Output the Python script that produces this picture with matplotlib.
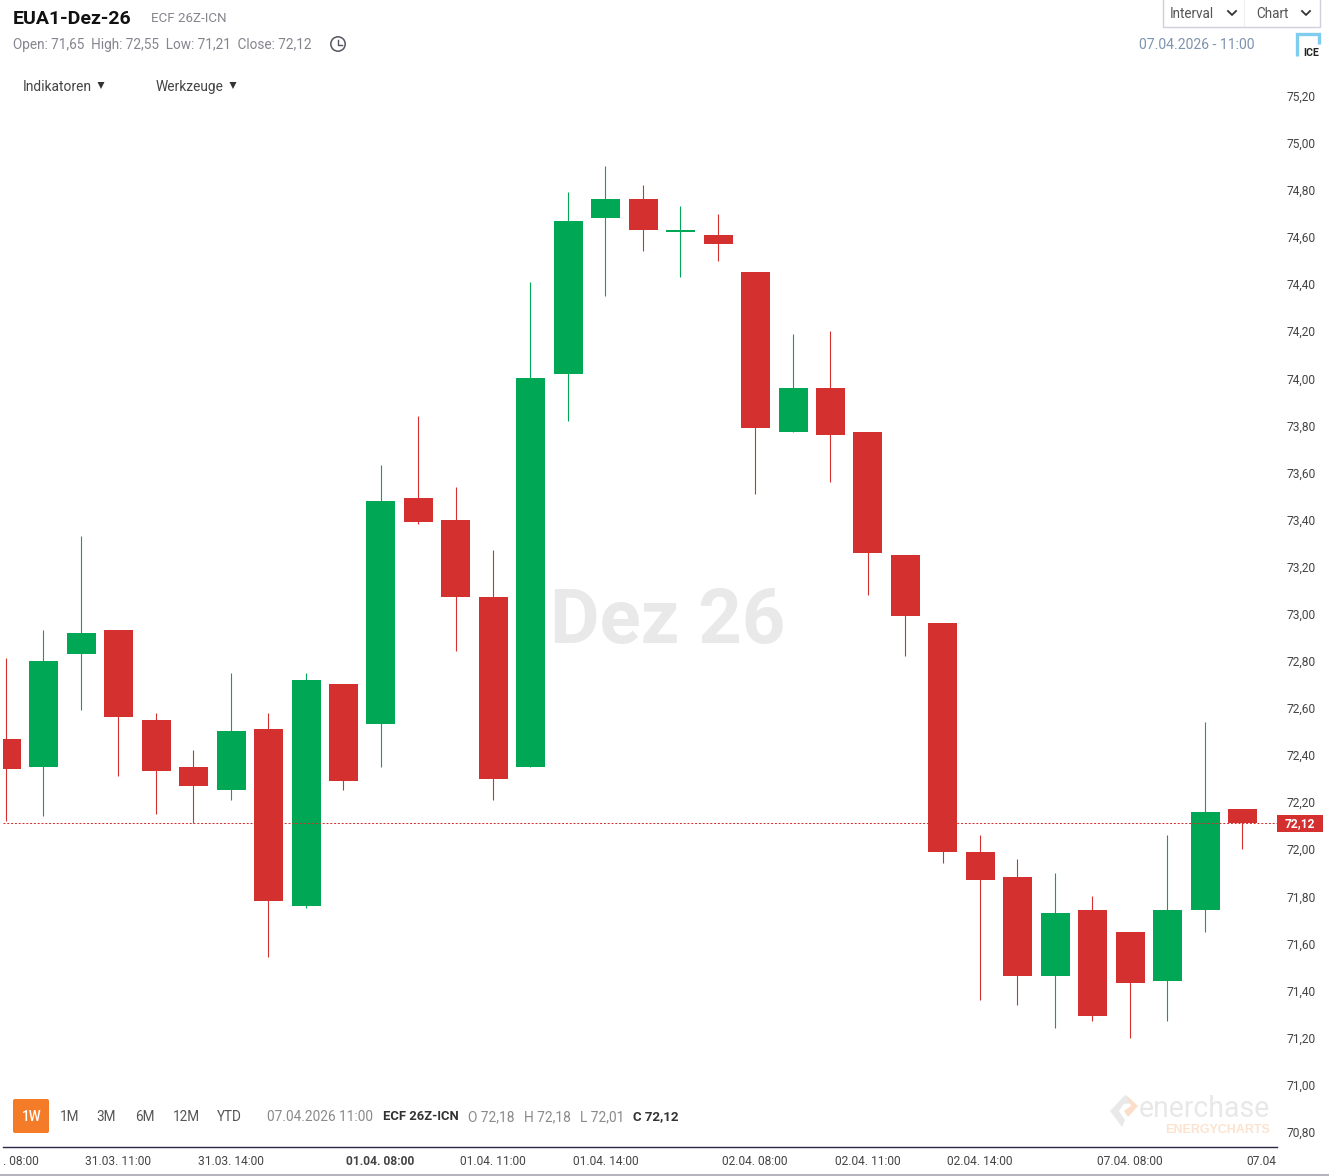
import matplotlib
matplotlib.use("Agg")
import matplotlib.pyplot as plt
from matplotlib.patches import Rectangle, Circle, FancyBboxPatch, Polygon
from matplotlib.transforms import ScaledTranslation

opens = [72.47, 72.35, 72.83, 72.93, 72.55, 72.35, 72.25, 72.51, 71.76, 72.70, 72.53, 73.49, 73.40, 73.07, 72.35, 74.02, 74.68,
         74.76, 74.62, 74.61, 74.45, 73.77, 73.96, 73.77, 73.25, 72.96, 71.99, 71.88, 71.46, 71.74, 71.65, 71.44, 71.74, 72.17]
closes = [72.34, 72.80, 72.92, 72.56, 72.33, 72.27, 72.50, 71.78, 72.72, 72.29, 73.48, 73.39, 73.07, 72.30, 74.00, 74.67, 74.76,
          74.63, 74.63, 74.57, 73.79, 73.96, 73.76, 73.26, 72.99, 71.99, 71.87, 71.46, 71.73, 71.29, 71.43, 71.74, 72.16, 72.11]
highs = [72.81, 72.93, 73.33, 72.93, 72.58, 72.42, 72.75, 72.58, 72.75, 72.70, 73.63, 73.84, 73.54, 73.27, 74.41, 74.79, 74.90,
         74.82, 74.73, 74.70, 74.45, 74.19, 74.20, 73.77, 73.25, 72.96, 72.06, 71.96, 71.90, 71.80, 71.65, 72.06, 72.54, 72.17]
lows = [72.12, 72.14, 72.59, 72.31, 72.15, 72.11, 72.21, 71.54, 71.75, 72.25, 72.35, 73.38, 72.84, 72.21, 72.35, 73.82, 74.35,
        74.54, 74.43, 74.50, 73.51, 73.77, 73.56, 73.08, 72.82, 71.94, 71.36, 71.34, 71.24, 71.27, 71.20, 71.27, 71.65, 72.00]

price_ticks = [70.8, 71.0, 71.2, 71.4, 71.6, 71.8, 72.0, 72.2, 72.4, 72.6, 72.8, 73.0,
               73.2, 73.4, 73.6, 73.8, 74.0, 74.2, 74.4, 74.6, 74.8, 75.0, 75.2]
time_ticks = [0, 3, 6, 10, 13, 16, 20, 23, 26, 30, 33]
time_labels = [". 08:00", "31.03. 11:00", "31.03. 14:00", "01.04. 08:00", "01.04. 11:00", "01.04. 14:00",
               "02.04. 08:00", "02.04. 11:00", "02.04. 14:00", "07.04. 08:00", "07.04"]
last_line = 72.11
last_tag = "72,12"
RED, GREEN = "#D53030", "#00A855"
FONT = "Roboto"

W, H = 1329, 1176
plt.rcParams["font.family"] = [FONT, "DejaVu Sans"]
fig = plt.figure(figsize=(W / 100, H / 100), dpi=100, facecolor="white")

def px(s):
    return s * 0.72

# overlay in pixel coordinates for the page furniture
ov = fig.add_axes([0, 0, 1, 1], zorder=0)
ov.set_xlim(0, W)
ov.set_ylim(H, 0)
ov.axis("off")

# main chart
L, R, B = 3, 1277, 1147
ax = fig.add_axes([L / W, 1 - B / H, (R - L) / W, B / H], zorder=1)
ax.patch.set_alpha(0)
step = 37.46
x0 = 6.0
ax.set_xlim((L - x0) / step, (R - x0) / step)
ax.set_ylim(70.735, 75.607)

xs = list(range(len(opens)))
for i in xs:
    col = GREEN if closes[i] >= opens[i] else RED
    ax.vlines(i, lows[i], highs[i], color=col, lw=0.8, zorder=2)
    ax.bar(i + 0.01, abs(closes[i] - opens[i]), bottom=min(opens[i], closes[i]), width=0.775,
           color=col, linewidth=0, zorder=3)
ax.axhline(last_line, color=RED, lw=0.72, dashes=(2.0, 1.8), zorder=4)

for s in ("top", "left", "right"):
    ax.spines[s].set_visible(False)
ax.spines["bottom"].set_color("#2B2745")
ax.spines["bottom"].set_linewidth(1.0)

ax.yaxis.tick_right()
ax.set_yticks(price_ticks)
ax.set_yticklabels([f"{v:.2f}".replace(".", ",") for v in price_ticks], fontsize=px(12), color="#444444")
ax.tick_params(axis="y", length=0, pad=7.2)
ax.set_xticks(time_ticks)
ax.set_xticklabels(time_labels, fontsize=px(12), color="#444444")
ax.tick_params(axis="x", length=0, pad=5.5)
tl = ax.get_xticklabels()
tl[3].set_fontweight("bold")
tl[0].set_ha("left")
tl[-1].set_ha("left")
tl[0].set_transform(tl[0].get_transform() + ScaledTranslation(-3 / 100, 0, fig.dpi_scale_trans))
tl[-1].set_transform(tl[-1].get_transform() + ScaledTranslation(4 / 100, 0, fig.dpi_scale_trans))

# last-price tag
ax.add_patch(Rectangle((1, last_line - 0.035), 46 / (R - L), 0.07, transform=ax.get_yaxis_transform(),
                       facecolor=RED, edgecolor="none", clip_on=False, zorder=5))
ax.text(1 + 23 / (R - L), last_line, last_tag, transform=ax.get_yaxis_transform(),
        color="white", fontsize=px(12), fontweight="bold", ha="center", va="center", zorder=6, clip_on=False)

# header
GREY = "#85858F"
ov.text(13, 18.5, "EUA1-Dez-26", fontsize=px(19.5), fontweight="bold", color="#111111", va="center")
ov.text(151, 18.5, "ECF 26Z-ICN", fontsize=px(13.4), color=GREY, va="center")
ov.text(13, 44.5, "Open: 71,65  High: 72,55  Low: 71,21  Close: 72,12", fontsize=px(13.65), color=GREY, va="center")
ov.add_patch(Circle((338, 44), 7.2, fill=False, ec="#555560", lw=1.1))
ov.plot([338, 338, 342], [39.5, 45, 45], color="#555560", lw=1.0)
ov.text(23, 87, "Indikatoren", fontsize=px(13.7), color="#444444", va="center")
ov.text(156, 87, "Werkzeuge", fontsize=px(13.7), color="#444444", va="center")
for x in (101, 233):
    ov.add_patch(Polygon([(x - 3.5, 82), (x + 3.5, 82), (x, 89)], fc="#333333", ec="none"))

# top-right controls
ov.plot([1162.5, 1162.5, 1319.5, 1319.5], [0, 26.5, 26.5, 0], color="#CFCFDD", lw=1)
ov.plot([1244, 1244], [0, 26], color="#F0F0F4", lw=1)
ov.text(1170, 14, "Interval", fontsize=px(13.5), color="#555555", va="center")
ov.text(1256, 14, "Chart", fontsize=px(13.5), color="#555555", va="center")
for x in (1232, 1306):
    ov.plot([x - 4, x, x + 4], [11, 15, 11], color="#333333", lw=1.3)
ov.text(1139, 45, "07.04.2026 - 11:00", fontsize=px(14), color="#7D93AE", va="center")
ov.plot([1296.5, 1296.5, 1318.5, 1318.5], [56, 34, 34, 44], color="#7FCDEE", lw=2.4, solid_capstyle="butt", solid_joinstyle="miter")
ov.add_patch(Rectangle((1301, 44), 20, 14, fc="white", ec="none"))
ov.text(1311.5, 52.5, "ICE", fontsize=px(10.5), fontweight="bold", color="#222222", ha="center", va="center")

# watermark
ov.text(667.5, 623, "Dez 26", fontsize=px(76), fontweight="bold", color="#E9E9E9", ha="center", va="center")

# range selector and OHLC row
ov.add_patch(FancyBboxPatch((15, 1101), 32, 30, boxstyle="round,pad=2,rounding_size=2", fc="#F47B27", ec="none"))
ov.text(31.5, 1117, "1W", fontsize=px(13.5), color="white", ha="center", va="center", fontweight="medium")
for lab, x in [("1M", 69.5), ("3M", 106.5), ("6M", 144.5), ("12M", 186), ("YTD", 229.5)]:
    ov.text(x, 1117, lab, fontsize=px(13.5), color="#555555", ha="center", va="center")
ov.text(267, 1117, "07.04.2026 11:00", fontsize=px(13.8), color="#8A8A8A", va="center")
ov.text(383, 1117, "ECF 26Z-ICN", fontsize=px(13), color="#333333", fontweight="bold", va="center")
for lab, x in [("O 72,18", 468), ("H 72,18", 524), ("L 72,01", 580)]:
    ov.text(x, 1117, lab, fontsize=px(13.8), color="#8A8A8A", va="center")
ov.text(633, 1117, "C 72,12", fontsize=px(13.2), color="#333333", fontweight="bold", va="center")

# enerchase logo
ov.add_patch(Polygon([(1125, 1095), (1134, 1103), (1124, 1104), (1119, 1111), (1125, 1120), (1122, 1127), (1110, 1111)],
                     fc="#E9E9E9", ec="none"))
ov.add_patch(Polygon([(1126, 1095), (1138, 1106), (1128, 1117), (1124, 1111), (1131, 1106)], fc="#FBDDC8", ec="none"))
ov.text(1270, 1109, "enerchase", fontsize=px(28.5), color="#E8E8E8", ha="right", va="center")
ov.text(1270, 1130, "ENERGYCHARTS", fontsize=px(12.5), fontweight="bold", color="#FCE3D0", ha="right", va="center", family="Liberation Sans")

# bottom rule
ov.plot([0, W], [1175, 1175], color="#A5A5B5", lw=1.2)

fig.savefig("out.png", dpi=100, facecolor="white")
